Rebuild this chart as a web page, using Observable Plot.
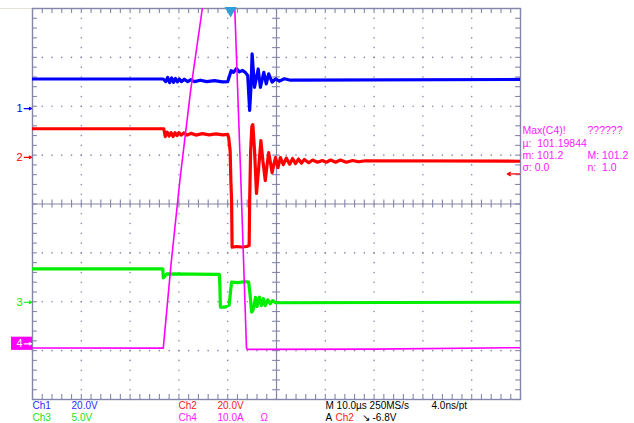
<!DOCTYPE html>
<html><head><meta charset="utf-8">
<script src="https://cdn.jsdelivr.net/npm/d3@7"></script>
<script src="https://cdn.jsdelivr.net/npm/@observablehq/plot@0.6"></script>
<style>body{margin:0;background:#fff;} #chart svg{display:block;}</style>
</head><body><div id="chart"></div>
<script>
// Time in µs (10 µs/div). Ch1, Ch2, Ch3 in volts; Ch4 in amperes.
const ch1 = [[-50,12.1],[-23.2,12.1],[-22.7,11.0],[-22.3,12.7],[-21.9,10.6],[-21.5,12.5],[-21.1,10.7],[-20.7,12.3],[-20.3,10.9],[-19.9,12.1],[-19.5,11.0],[-18.9,12.0],[-18.2,11.0],[-17.6,11.8],[-16.8,11.0],[-15.6,11.6],[-14.3,11.0],[-12.7,11.4],[-11.1,10.9],[-10.0,11.0],[-9.6,13.5],[-9.3,15.5],[-8.8,14.8],[-8.2,16.4],[-7.6,15.0],[-7.0,15.6],[-6.4,14.8],[-5.9,13.5],[-5.5,-0.8],[-5.2,10.0],[-5.0,22.4],[-4.5,8.7],[-3.75,16.2],[-3.3,8.7],[-2.6,14.8],[-2.1,10.1],[-1.6,14.2],[-0.9,10.8],[-0.2,12.1],[0.6,11.2],[1.6,12.2],[2.9,11.6],[50,11.9]];
const ch2 = [[-50,11.7],[-23.1,11.7],[-22.8,8.5],[-22.4,10.3],[-22.0,8.7],[-21.6,10.1],[-21.2,8.5],[-20.8,10.1],[-20.4,8.9],[-20.0,10.1],[-19.5,9.1],[-19.0,10.0],[-18.3,9.1],[-17.5,9.8],[-16.5,9.1],[-15.2,9.7],[-13.8,9.2],[-12.4,9.6],[-11.0,9.2],[-10.0,9.4],[-9.8,8.0],[-9.5,2.7],[-9.35,-9.5],[-9.2,-17.7],[-9.1,-36.8],[-8.2,-36.5],[-7.2,-36.7],[-6.1,-36.5],[-5.6,-36.1],[-5.5,-17.7],[-5.3,2.7],[-5.05,12.6],[-4.85,13.4],[-4.5,2.7],[-4.1,-14.8],[-3.7,-5.4],[-3.2,6.8],[-2.8,-1.3],[-2.3,-9.5],[-1.9,-2.6],[-1.6,1.9],[-1.2,-2.6],[-0.9,-6.3],[-0.6,-3.4],[-0.2,-0.1],[0.3,-4.2],[0.8,-0.1],[1.4,-3.0],[2.0,-0.3],[2.7,-2.8],[3.3,-0.5],[3.9,-2.6],[4.5,-0.7],[5.1,-2.4],[5.7,-0.9],[6.6,-2.2],[7.4,-1.1],[8.4,-2.0],[9.4,-1.3],[10.2,-2.0],[11.1,-1.1],[12.1,-2.0],[13.1,-1.1],[14.3,-2.0],[15.6,-1.3],[16.8,-1.8],[18.2,-1.4],[50,-1.6]];
const ch3 = [[-50,3.42],[-23.3,3.42],[-23.2,2.5],[-22.9,2.65],[-22.5,2.9],[-11.7,2.85],[-11.6,1.7],[-11.5,-0.49],[-10.5,-0.49],[-9.7,-0.3],[-9.4,1.2],[-9.2,2.05],[-8.0,2.0],[-6.5,2.1],[-5.7,2.05],[-5.4,0.7],[-5.1,-1.02],[-4.8,-0.8],[-4.3,0.51],[-4.0,-0.44],[-3.5,0.51],[-3.1,-0.34],[-2.7,0.38],[-2.3,-0.34],[-1.8,0.25],[-1.3,-0.15],[-0.8,0.17],[-0.2,-0.05],[50,0.0]];
const ch4 = [[-50,-0.85],[-23.2,-0.88],[-21.6,16.4],[-19.8,33.4],[-17.6,51.8],[-15.2,68.6],[-12.7,84.7],[-11.2,93.5],[-9.6,101.2],[-8.55,68.6],[-7.3,33.4],[-6.15,-0.9],[-6.0,-1.15],[20,-1.1],[50,-0.8]];

const channelNames = ["1","2","3","4"];
const voltsPerDiv = [20, 20, 5, 10];
const groundDiv = [1.953, 0.955, -2.01, -2.86];
const traceColors = ["#0000ff","#ff0000","#00ee00","#ff00ff"];
const triggerTime = -9.4;      // µs
const triggerLevel = -6.8;     // V on Ch2

const statusText = ["Ch1","20.0V","Ch2","20.0V","M 10.0\u00b5s 250MS/s","4.0ns/pt","Ch3","5.0V","Ch4","10.0A","\u03a9","A","Ch2","\u2198","-6.8V"];
const measureText = ["Max(C4)!","??????","\u00b5:","101.19844","m: 101.2","M: 101.2","\u03c3: 0.0","n:  1.0"];

// ---------- layout ----------
const grid = "#8585aa";
const blueT = "#2a2aff", redT = "#ff2020", greenT = "#22dd22", magT = "#ff18ff";
const statusX = [-50,-42,-20.08,-12.09,10.04,31.76,-50,-42,-20.08,-12.09,-3.28,10.04,12.09,17.42,19.67];
const r1 = -4.13, r2 = -4.37;
const statusY = [r1,r1,r1,r1,r1,r1,r2,r2,r2,r2,r2,r2,r2,r2,r2];
const statusC = [blueT,blueT,redT,redT,"#000","#000",greenT,greenT,magT,magT,magT,"#000",redT,"#000","#000"];
const statusRows = statusText.map((s,i)=>({s, x:statusX[i], y:statusY[i], c:statusC[i]}));
const measX = [50.41,63.73,50.41,53.42,50.41,63.73,50.41,63.73];
const measY = [1.5,1.5,1.24,1.24,0.99,0.99,0.74,0.74];
const measRows = measureText.map((s,i)=>({s, x:measX[i], y:measY[i]}));

const traces = [ch1,ch2,ch3,ch4].map((data,i)=>
  data.map(([t,v])=>({t, d: v/voltsPerDiv[i] + groundDiv[i]})));

const minorX = d3.range(0,51).map(i=>-50+2*i);
const minorY = d3.range(0,41).map(i=>-4+0.2*i);
const dots = [];
for (const gx of [-40,-30,-20,-10,10,20,30,40]) for (const y of minorY) dots.push({t:gx,d:y});
for (const gy of [-3,-2,-1,1,2,3]) for (const t of minorX) dots.push({t,d:gy});

const markers = channelNames.map((n,i)=>({n, d:groundDiv[i], c:traceColors[i]}));
const m123 = markers.slice(0,3), m4 = markers.slice(3);

const font = "'Liberation Sans', Arial, sans-serif";

const chart = Plot.plot({
  width: 634, height: 423,
  marginLeft: 32, marginRight: 114, marginTop: 8, marginBottom: 24,
  x: {domain: [-50, 50], axis: null},
  y: {domain: [-4, 4], axis: null},
  style: {fontFamily: font, fontSize: "10px", background: "#fff", overflow: "visible"},
  marks: [
    Plot.ruleY([4], {x1: () => -56.6, x2: () => -50, stroke: "#e6e2d8", strokeWidth: 1}),
    Plot.dot(dots, {x:"t", y:"d", r: 0.8, fill: grid, stroke: null}),
    Plot.ruleX([0], {stroke: grid, strokeWidth: 1.2}),
    Plot.ruleY([0], {stroke: grid, strokeWidth: 1.2}),
    Plot.ruleX(minorX, {y1: () => 4, y2: () => 3.9, stroke: grid, strokeWidth: 1.1}),
    Plot.ruleX(minorX, {y1: () => -4, y2: () => -3.9, stroke: grid, strokeWidth: 1.1}),
    Plot.ruleX(minorX, {y1: () => -0.08, y2: () => 0.08, stroke: grid, strokeWidth: 1.1}),
    Plot.ruleY(minorY, {x1: () => -50, x2: () => -49, stroke: grid, strokeWidth: 1.1}),
    Plot.ruleY(minorY, {x1: () => 50, x2: () => 49, stroke: grid, strokeWidth: 1.1}),
    Plot.ruleY(minorY, {x1: () => -0.8, x2: () => 0.8, stroke: grid, strokeWidth: 1.1}),
    Plot.frame({stroke: grid, strokeWidth: 1.4}),
    ...traces.map((tr,i)=>Plot.line(tr, {x:"t", y:"d", stroke: traceColors[i],
        strokeWidth: i===3 ? 1.6 : 3.2, strokeLinejoin: "round", clip: true})),
    // trigger position marker
    Plot.dot([triggerTime], {x: d=>d, y: () => 4, dy: 2, symbol: "triangle", rotate: 180, r: 4.5, fill: "#2e9fd6", stroke: null}),
    // trigger level arrow (Ch2)
    Plot.arrow([triggerLevel], {x1: () => 49.8, x2: () => 47.3, y1: v => v/voltsPerDiv[1]+groundDiv[1], y2: v => v/voltsPerDiv[1]+groundDiv[1], stroke: traceColors[1], strokeWidth: 1.3, headLength: 4}),
    // channel ground markers
    Plot.text(m123, {x: () => -50, y: "d", dx: -13, text: "n", fill: "c", fontSize: 11, textAnchor: "middle"}),
    Plot.arrow(m123, {x1: () => -51.7, x2: () => -50.2, y1: "d", y2: "d", stroke: "c", strokeWidth: 1.2, headLength: 3.5}),
    Plot.rect(m4, {x1: () => -54.3, x2: () => -50, y1: d => d.d - 0.135, y2: d => d.d + 0.135, fill: "c"}),
    Plot.text(m4, {x: () => -50, y: "d", dx: -13, text: "n", fill: "#fff", fontSize: 11, textAnchor: "middle"}),
    Plot.arrow(m4, {x1: () => -51.7, x2: () => -50.2, y1: "d", y2: "d", stroke: "#fff", strokeWidth: 1.2, headLength: 3.5}),
    // readouts
    Plot.text(statusRows, {x:"x", y:"y", text:"s", fill:"c", textAnchor:"start", fontSize: 10}),
    Plot.text(measRows, {x:"x", y:"y", text:"s", fill: magT, textAnchor:"start", fontSize: 10.5})
  ]
});
document.getElementById("chart").appendChild(chart);
</script>
</body></html>
